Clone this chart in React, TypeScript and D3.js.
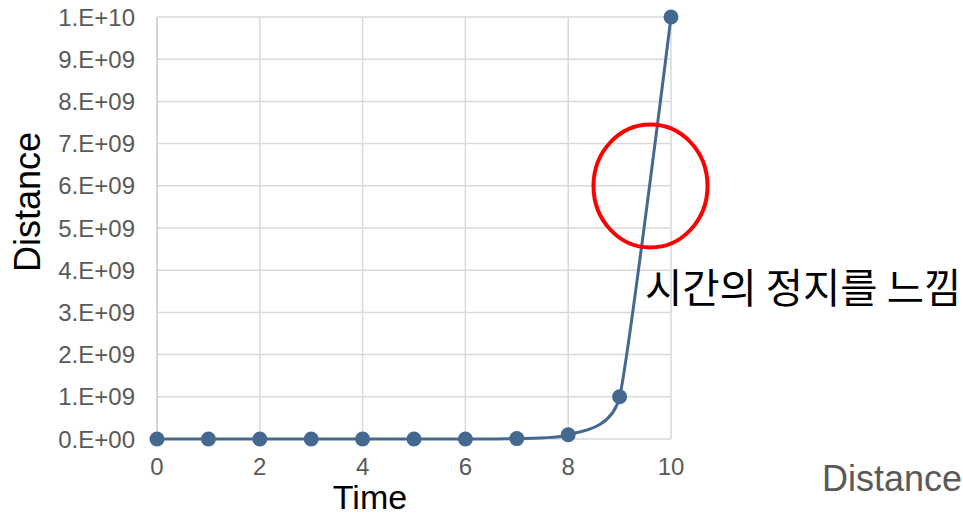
import * as d3 from "d3";

const times = [0, 1, 2, 3, 4, 5, 6, 7, 8, 9, 10];
const distances = [1, 10, 100, 1e3, 1e4, 1e5, 1e6, 1e7, 1e8, 1e9, 1e10];
const yTicks = [0, 1e9, 2e9, 3e9, 4e9, 5e9, 6e9, 7e9, 8e9, 9e9, 1e10];
const yTickLabels = [
  "0.E+00", "1.E+09", "2.E+09", "3.E+09", "4.E+09", "5.E+09",
  "6.E+09", "7.E+09", "8.E+09", "9.E+09", "1.E+10",
];
const xTicks = [0, 2, 4, 6, 8, 10];
const note = "시간의 정지를 느낌";

export default function App() {
  const width = 963;
  const height = 517;
  const left = 157;
  const right = 671;
  const top = 17;
  const bottom = 439;
  const lineColor = "#44688f";
  const gridColor = "#d9d9d9";
  const labelColor = "#595959";
  const font = "'Liberation Sans', Arial, sans-serif";

  const xScale = d3.scaleLinear().domain([0, 10]).range([left, right]);
  const yScale = d3.scaleLinear().domain([0, 1e10]).range([bottom, top]);

  const points = times.map((t, i) => [t, distances[i]] as [number, number]);
  // tighter cardinal spline: no dip before 9, near-straight climb to 10
  const line = d3
    .line<[number, number]>()
    .x((d) => xScale(d[0]))
    .y((d) => yScale(d[1]))
    .curve(d3.curveCardinal.tension(0.5));

  return (
    <svg
      width={width}
      height={height}
      style={{ position: "absolute", left: 0, top: 0, background: "#fff" }}
    >
      {/* grid */}
      <g>
        {yTicks.map((v) => (
          <line
            key={"h" + v}
            x1={left}
            x2={right}
            y1={yScale(v)}
            y2={yScale(v)}
            stroke={gridColor}
            strokeWidth={1.5}
          />
        ))}
        {xTicks.map((v) => (
          <line
            key={"v" + v}
            x1={xScale(v)}
            x2={xScale(v)}
            y1={top}
            y2={bottom}
            stroke={v === 0 ? "#c8c8c8" : gridColor}
            strokeWidth={1.5}
          />
        ))}
      </g>

      {/* tick labels */}
      <g fontFamily={font} fontSize={24} fill={labelColor}>
        {yTicks.map((v, i) => (
          <text
            key={"yl" + v}
            x={135}
            y={yScale(v)}
            textAnchor="end"
            dominantBaseline="central"
          >
            {yTickLabels[i]}
          </text>
        ))}
        {xTicks.map((v) => (
          <text key={"xl" + v} x={xScale(v)} y={475} textAnchor="middle">
            {v}
          </text>
        ))}
      </g>

      {/* series */}
      <path d={line(points) || ""} fill="none" stroke={lineColor} strokeWidth={3} />
      {points.map((d, i) => (
        <circle
          key={i}
          cx={xScale(d[0])}
          cy={yScale(d[1])}
          r={7.5}
          fill={lineColor}
        />
      ))}

      {/* axis titles */}
      <text x={370} y={509} textAnchor="middle" fontFamily={font} fontSize={34} fill="#000">
        Time
      </text>
      <text
        transform="translate(40, 202) rotate(-90)"
        textAnchor="middle"
        fontFamily={font}
        fontSize={36}
        fill="#000"
      >
        Distance
      </text>
      <text x={822} y={491} fontFamily={font} fontSize={36} fill={labelColor}>
        Distance
      </text>

      {/* annotation */}
      <ellipse cx={650.5} cy={186} rx={57} ry={61.5} fill="none" stroke="#ff0000" strokeWidth={4} />
      <text
        x={645}
        y={303}
        fontFamily="'Noto Sans CJK KR', sans-serif"
        fontSize={40.5}
        fill="#000"
      >
        {note}
      </text>
    </svg>
  );
}
